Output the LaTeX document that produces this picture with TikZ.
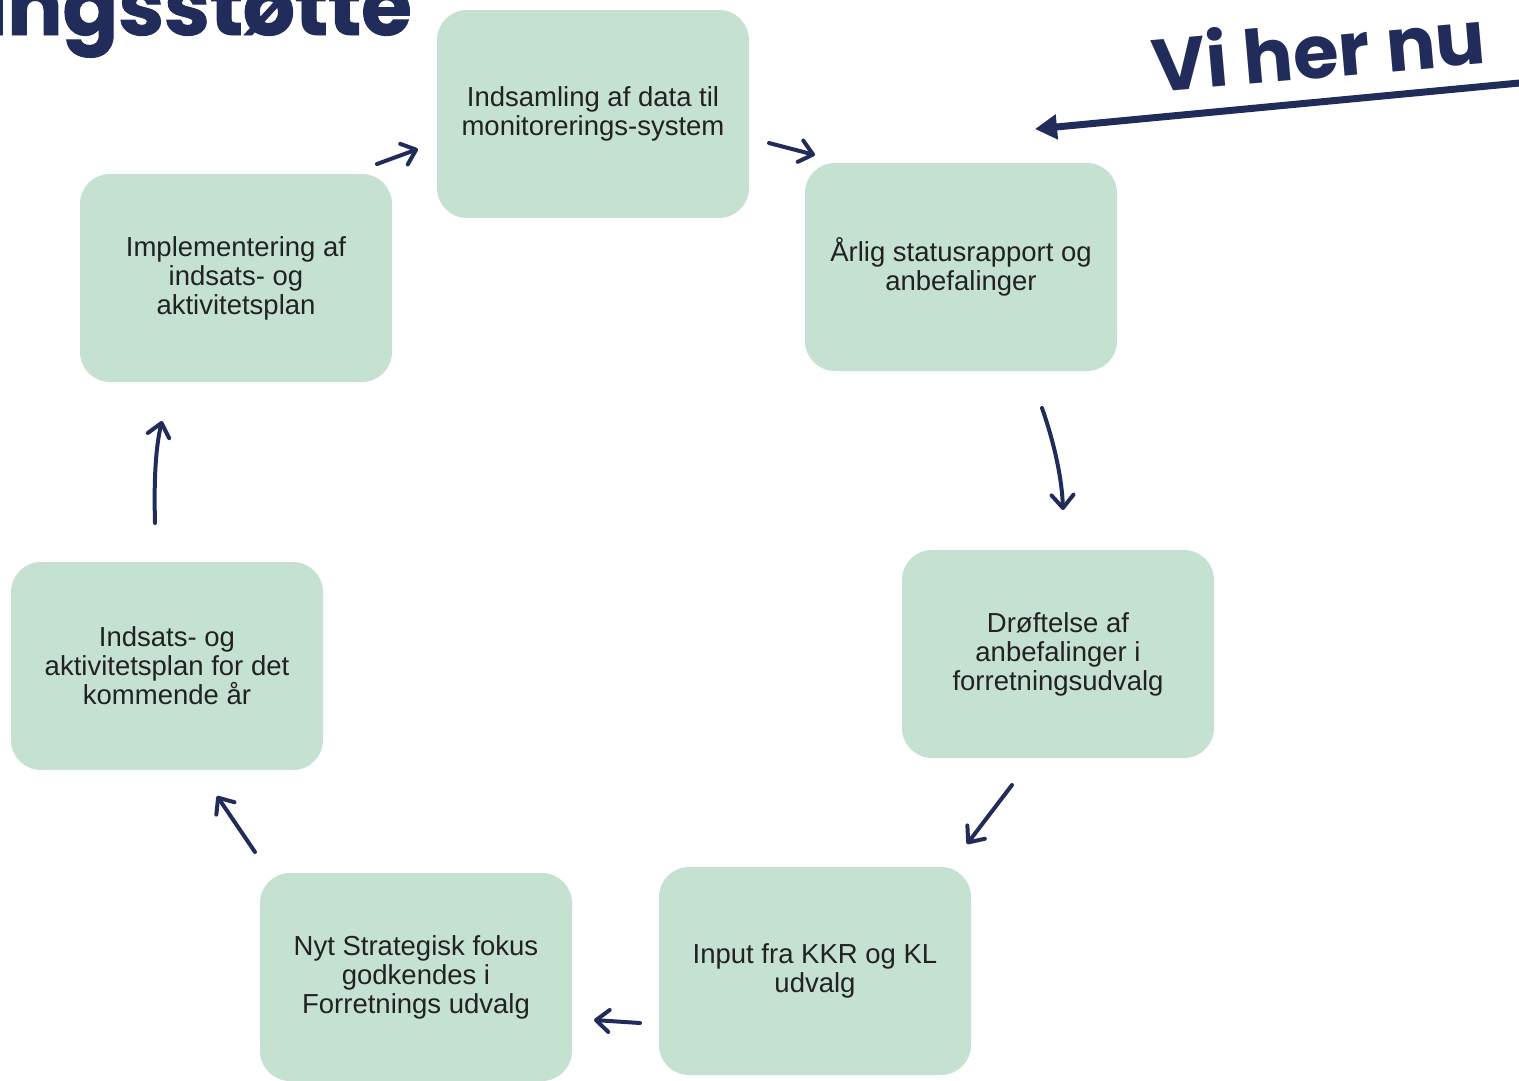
\documentclass[tikz,border=0pt]{standalone}
\usepackage{fontspec}
\setmainfont{Liberation Sans}
\newfontfamily\popfont{Poppins}
\newfontfamily\popheavy{Poppins}[BoldFeatures={FakeBold=1.2}]
\usetikzlibrary{arrows.meta}
\definecolor{boxgreen}{HTML}{C5E1D1}
\definecolor{navy}{HTML}{222C5A}
\definecolor{txtgray}{HTML}{222222}
\tikzset{
  stepbox/.style={fill=boxgreen, draw=none, rounded corners=30pt, minimum width=312pt, minimum height=208pt,
    inner sep=0pt, align=center, text=txtgray, font=\fontsize{27.5}{29}\selectfont},
  flow/.style={draw=navy, line width=4pt, line cap=round,
    -{Straight Barb[length=13pt,width=22pt,line cap=round,line join=round]}},
  bigarrow/.style={draw=navy, line width=7pt, -{Triangle[length=22pt,width=24pt]}}
}
\begin{document}
\begin{tikzpicture}[x=1pt,y=-1pt]
\useasboundingbox (0,0) rectangle (1519,1080);
\begin{scope}
\clip (0,0) rectangle (1519,1080);
\node[anchor=base east, text=navy, font=\popheavy\bfseries\fontsize{82}{90}\selectfont, inner sep=0pt] (title) at (412,35) {ingsstøtte};

\node[stepbox] (n1) at (593,114) {Indsamling af data til\\monitorerings-system};
\node[stepbox] (n2) at (961,267) {Årlig statusrapport og\\anbefalinger};
\node[stepbox] (n3) at (1058,654) {Drøftelse af\\anbefalinger i\\forretningsudvalg};
\node[stepbox] (n4) at (815,971) {Input fra KKR og KL\\udvalg};
\node[stepbox] (n5) at (416,977) {Nyt Strategisk fokus\\godkendes i\\Forretnings udvalg};
\node[stepbox] (n6) at (167,666) {Indsats- og\\aktivitetsplan for det\\kommende år};
\node[stepbox] (n7) at (236,278) {Implementering af\\indsats- og\\aktivitetsplan};

\node[anchor=base, rotate=5, text=navy, font=\popfont\bfseries\fontsize{74}{80}\selectfont, inner sep=0pt] (vi) at (1321,78) {Vi her nu};

\coordinate (bigS) at (1530,82);
\coordinate (bigE) at (1035,129);
\draw[bigarrow] (bigS) -- (bigE);

\coordinate (a1s) at (377,164); \coordinate (a1e) at (418,149);
\coordinate (a2s) at (769,143); \coordinate (a2e) at (815,155);
\coordinate (a3s) at (1042,408); \coordinate (a3e) at (1063,510);
\coordinate (a4s) at (1012,785); \coordinate (a4e) at (967,844);
\coordinate (a5s) at (640,1023); \coordinate (a5e) at (594,1020);
\coordinate (a6s) at (255,852); \coordinate (a6e) at (217,796);
\coordinate (a7s) at (155,523); \coordinate (a7e) at (162,421);

\draw[flow] (a1s) -- (a1e);
\draw[flow] (a2s) -- (a2e);
\draw[flow] (a3s) .. controls (1055,445) and (1062,480) .. (a3e);
\draw[flow] (a4s) -- (a4e);
\draw[flow] (a5s) -- (a5e);
\draw[flow] (a6s) -- (a6e);
\draw[flow] (a7s) .. controls (154,485) and (155,450) .. (a7e);
\end{scope}
\end{tikzpicture}
\end{document}
